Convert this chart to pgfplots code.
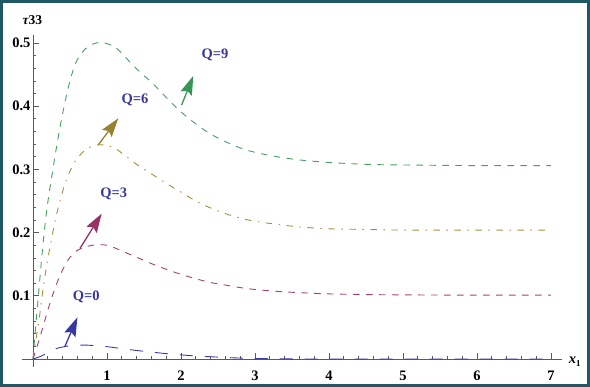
\documentclass[border=0pt]{standalone}
\usepackage{fontspec}
\setmainfont{Liberation Serif}
\usepackage{pgfplots}
\pgfplotsset{compat=1.18}
\usetikzlibrary{arrows.meta}

\definecolor{frameteal}{RGB}{30,88,100}
\definecolor{axgray}{RGB}{90,90,90}
\definecolor{cQnine}{RGB}{70,160,95}
\definecolor{cQsix}{RGB}{165,145,60}
\definecolor{cQthree}{RGB}{165,65,115}
\definecolor{cQzero}{RGB}{60,60,165}
\definecolor{labblue}{RGB}{55,55,155}
\definecolor{arQnine}{RGB}{55,150,85}
\definecolor{arQsix}{RGB}{150,130,50}
\definecolor{arQthree}{RGB}{150,50,100}
\definecolor{arQzero}{RGB}{55,55,160}

\begin{document}
\begin{tikzpicture}
\useasboundingbox (0pt,0pt) rectangle (590pt,387pt);
\begin{axis}[
  at={(21.9pt,20.4pt)}, anchor=south west,
  scale only axis, width=540.2pt, height=331.8pt,
  xmin=-0.15, xmax=7.15, ymin=-0.012, ymax=0.513,
  axis lines=middle,
  axis line style={axgray, line width=0.8pt, -},
  every tick/.style={axgray, line width=0.7pt},
  tick align=inside,
  major tick length=6pt, minor tick length=3.5pt,
  xtick={0,1,2,3,4,5,6,7},
  xticklabels={,1,2,3,4,5,6,7},
  ytick={0,0.1,0.2,0.3,0.4,0.5},
  yticklabels={,0.1,0.2,0.3,0.4,0.5},
  minor x tick num=4, minor y tick num=4,
  ticklabel style={font=\fontsize{14.5}{14.5}\selectfont\bfseries, text=black},
  xticklabel style={yshift=-8pt},
  yticklabel style={xshift=1pt},
  clip=false,
]
% Q = 9
\addplot[cQnine, line width=0.9pt, dash pattern=on 6.5pt off 6.5pt, smooth] coordinates {
(0,0) (0.02,0.03) (0.05,0.07) (0.08,0.11) (0.12,0.163) (0.16,0.21) (0.2,0.248)
(0.25,0.286) (0.3,0.323) (0.35,0.357) (0.4,0.388) (0.45,0.416) (0.5,0.440)
(0.55,0.460) (0.6,0.474) (0.7,0.490) (0.8,0.498) (0.9,0.501) (1.0,0.499)
(1.1,0.494) (1.2,0.484) (1.3,0.471) (1.4,0.459) (1.6,0.438) (1.8,0.414)
(2.0,0.391) (2.2,0.372) (2.4,0.356) (2.6,0.344) (2.8,0.334) (3.0,0.327)
(3.3,0.320) (3.6,0.315) (4.0,0.311) (4.5,0.308) (5.0,0.307) (6.0,0.306) (7.0,0.306)
};
% Q = 6
\addplot[cQsix, line width=0.9pt, dash pattern=on 6.5pt off 6.5pt on 1.5pt off 6.5pt, smooth] coordinates {
(0,0) (0.02,0.016) (0.05,0.038) (0.08,0.06) (0.12,0.097) (0.16,0.13) (0.2,0.158)
(0.25,0.19) (0.3,0.219) (0.35,0.244) (0.4,0.265) (0.45,0.283) (0.5,0.297)
(0.55,0.309) (0.6,0.318) (0.7,0.330) (0.8,0.337) (0.9,0.339) (1.0,0.338)
(1.1,0.334) (1.2,0.326) (1.3,0.317) (1.4,0.308) (1.6,0.293) (1.8,0.278)
(2.0,0.264) (2.2,0.250) (2.4,0.239) (2.6,0.230) (2.8,0.223) (3.0,0.218)
(3.3,0.213) (3.6,0.209) (4.0,0.206) (4.5,0.205) (5.0,0.204) (6.0,0.204) (7.0,0.204)
};
% Q = 3
\addplot[cQthree, line width=0.9pt, dash pattern=on 6.5pt off 6.5pt, smooth] coordinates {
(0,0) (0.05,0.018) (0.1,0.037) (0.15,0.057) (0.2,0.077) (0.25,0.096) (0.3,0.113)
(0.35,0.128) (0.4,0.141) (0.45,0.152) (0.5,0.161) (0.55,0.167) (0.6,0.172)
(0.7,0.177) (0.8,0.180) (0.9,0.181) (1.0,0.180) (1.1,0.176) (1.2,0.171)
(1.4,0.161) (1.6,0.151) (1.8,0.142) (2.0,0.134) (2.2,0.127) (2.4,0.121)
(2.6,0.117) (2.8,0.113) (3.0,0.110) (3.3,0.107) (3.6,0.105) (4.0,0.103)
(4.5,0.102) (5.0,0.1015) (6.0,0.101) (7.0,0.101)
};
% Q = 0
\addplot[cQzero, line width=0.9pt, dash pattern=on 13pt off 12pt, smooth] coordinates {
(0,0) (0.1,0.004) (0.2,0.010) (0.3,0.016) (0.4,0.019) (0.5,0.021) (0.6,0.022)
(0.7,0.022) (0.8,0.0215) (1.0,0.0195) (1.2,0.0165) (1.4,0.0135) (1.6,0.011)
(1.8,0.0085) (2.0,0.0065) (2.2,0.0048) (2.5,0.003) (2.8,0.0015) (3.2,0.0005)
(3.6,0.0001) (4.0,0) (5.0,0) (6.0,0) (7.0,0)
};
% arrows and curve labels
\draw[arQzero, line width=1.3pt, -{Stealth[length=19pt, width=12pt, inset=3pt]}]
  (axis cs:0.43,0.0195) -- (axis cs:0.60,0.066);
\draw[arQthree, line width=1.3pt, -{Stealth[length=19pt, width=12pt, inset=3pt]}]
  (axis cs:0.635,0.175) -- (axis cs:0.928,0.230);
\draw[arQsix, line width=1.3pt, -{Stealth[length=19pt, width=12pt, inset=3pt]}]
  (axis cs:0.883,0.339) -- (axis cs:1.153,0.381);
\draw[arQnine, line width=1.3pt, -{Stealth[length=19pt, width=12pt, inset=3pt]}]
  (axis cs:2.009,0.402) -- (axis cs:2.166,0.448);
\begin{scope}[every node/.style={text=labblue, font=\fontsize{14.5}{14.5}\selectfont\bfseries, inner sep=0pt}]
\node at (axis cs:0.72,0.099) {Q=0};
\node at (axis cs:1.09,0.262) {Q=3};
\node at (axis cs:1.378,0.410) {Q=6};
\node at (axis cs:2.46,0.482) {Q=9};
\end{scope}
% axis titles
\node[inner sep=0pt, font=\fontsize{13.5}{13.5}\selectfont\bfseries] at (axis cs:-0.007,0.536) {{\itshape τ}33};
\node[inner sep=0pt, anchor=west, font=\fontsize{14.5}{14.5}\selectfont\bfseries] at (axis cs:7.24,-0.004)
  {{\itshape x}{\fontsize{9}{9}\selectfont\raisebox{-3pt}{1}}};
\end{axis}
\draw[frameteal, line width=2.6pt] (1.3pt,1.3pt) rectangle (588.7pt,385.7pt);
\end{tikzpicture}
\end{document}
